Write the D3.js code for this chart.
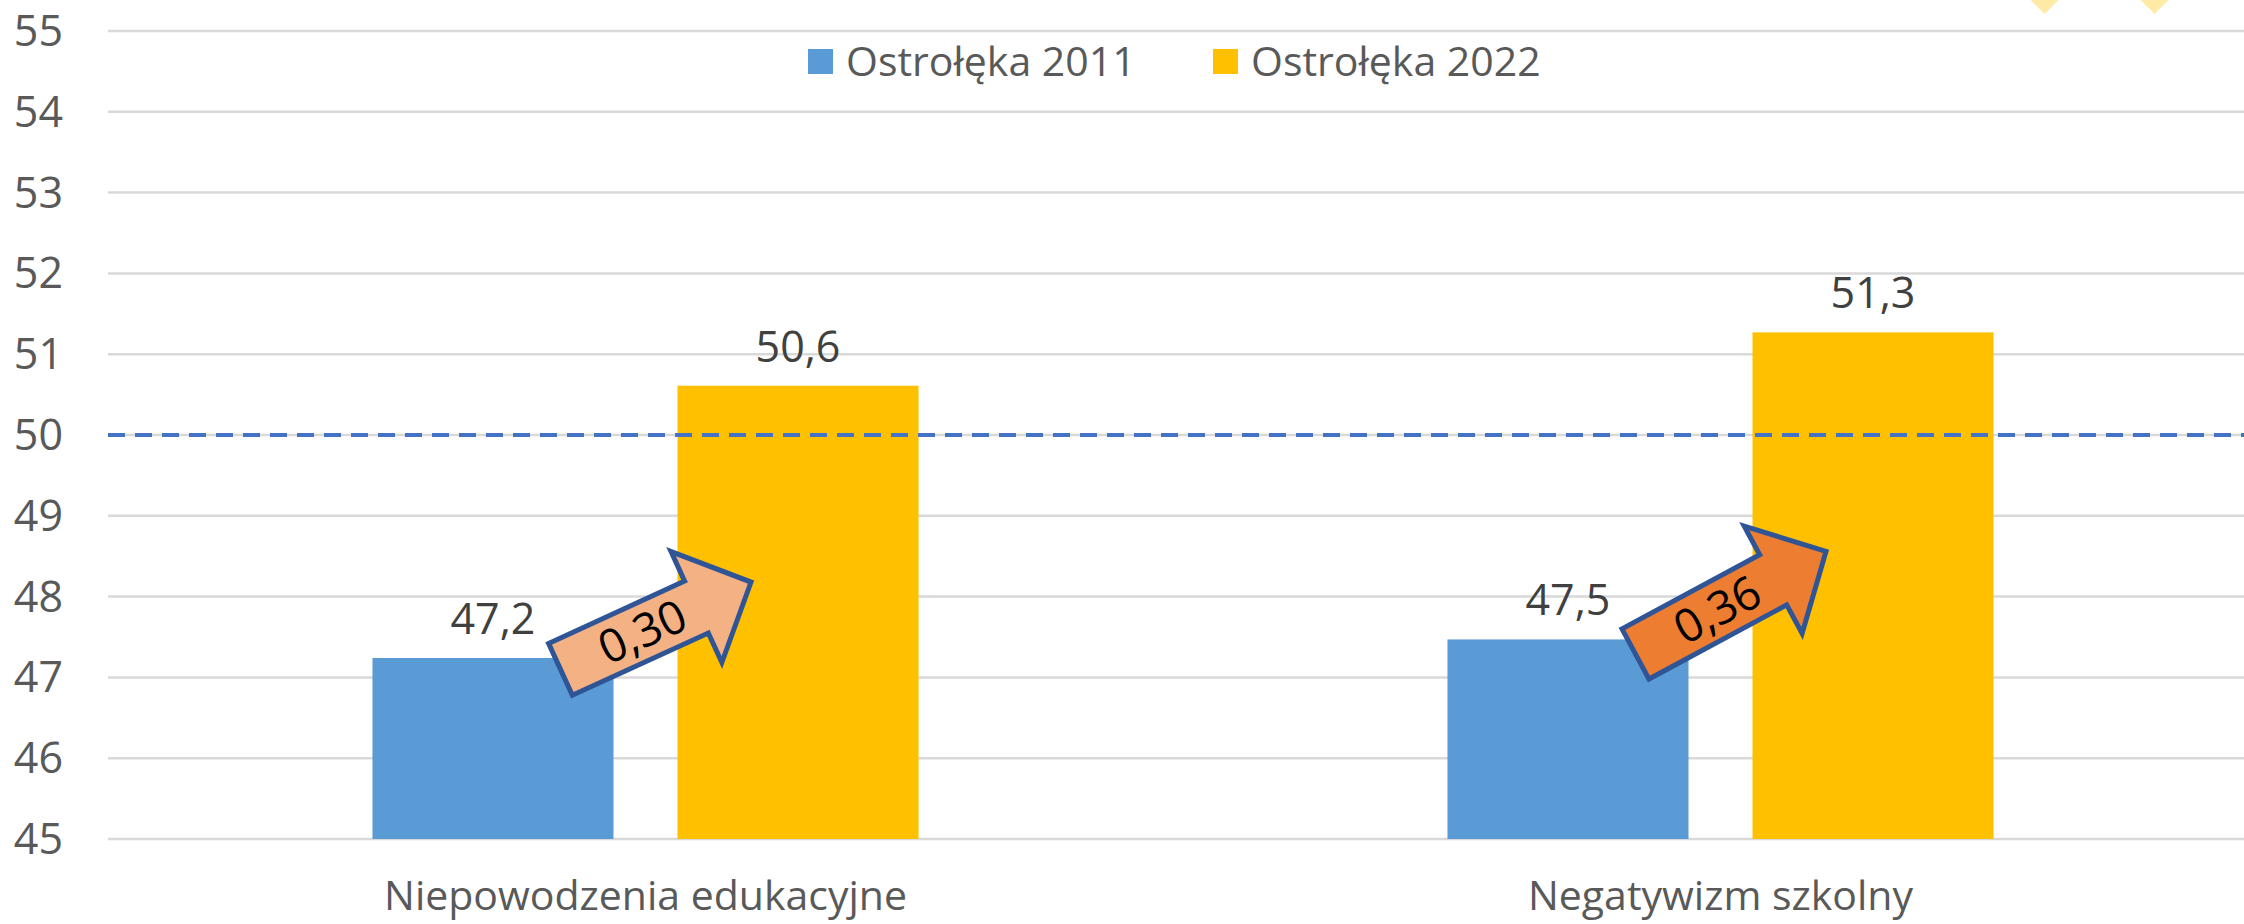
<!DOCTYPE html>
<html>
<head>
<meta charset="utf-8">
<script src="https://cdn.jsdelivr.net/npm/d3@7"></script>
<style>
  html, body { margin: 0; padding: 0; background: #fff; }
  svg { display: block; font-family: "Open Sans", sans-serif; }
</style>
</head>
<body>
<svg id="chart" width="2244" height="924"></svg>
<script>
// data
var categories = ["Niepowodzenia edukacyjne", "Negatywizm szkolny"];
var seriesNames = ["Ostrołęka 2011", "Ostrołęka 2022"];
var values2011 = [47.24, 47.47];
var values2022 = [50.61, 51.27];
var yTicks = [45, 46, 47, 48, 49, 50, 51, 52, 53, 54, 55];
var refValue = 50;
// arrows: change between years, drawn from the 2011 bar to the 2022 bar
var arrowFrom = [47.10, 47.29];
var arrowTo = [48.18, 48.56];
var arrowLabels = ["0,30", "0,36"];
var arrowFills = ["#F4B183", "#ED7D31"];

var colors = ["#5B9BD5", "#FFC000"];

var svg = d3.select("#chart");
var width = +svg.attr("width");
var height = +svg.attr("height");

var plotLeft = 108, plotRight = 2258;

var x = d3.scaleBand().domain(categories).range([plotLeft, plotRight]);
var xSub = d3.scaleBand().domain(seriesNames).range([0, x.bandwidth()])
  .paddingInner(0.2098).paddingOuter(0.867);
var y = d3.scaleLinear().domain([45, 55]).range([839, 31]);

function fmt(v) { return d3.format(".1f")(v).replace(".", ","); }

// decorative diamonds clipped at top right
svg.selectAll("path.decor")
  .data([width - 199.5, width - 89.5])
  .enter().append("path")
  .attr("class", "decor")
  .attr("d", function(d) { return "M" + d + ",-44 L" + (d + 29) + ",-15 L" + d + ",14 L" + (d - 29) + ",-15 Z"; })
  .style("fill", "#FFEAA6");

// gridlines
svg.selectAll("line.grid")
  .data(yTicks)
  .enter().append("line")
  .attr("class", "grid")
  .attr("x1", plotLeft).attr("x2", width)
  .attr("y1", function(d) { return y(d); })
  .attr("y2", function(d) { return y(d); })
  .style("stroke", "#D9D9D9")
  .style("stroke-width", 2.5);

// y tick labels
svg.selectAll("text.ytick")
  .data(yTicks)
  .enter().append("text")
  .attr("class", "ytick")
  .attr("x", 63)
  .attr("y", function(d) { return y(d) + 15; })
  .attr("text-anchor", "end")
  .style("font-size", "43px")
  .style("fill", "#595959")
  .text(function(d) { return d; });

// bars
var seriesData = [values2011, values2022];
var groups = svg.selectAll("g.series")
  .data(seriesData)
  .enter().append("g")
  .attr("class", "series")
  .style("fill", function(d, i) { return colors[i]; });

groups.each(function(vals, si) {
  var g = d3.select(this);
  g.selectAll("rect")
    .data(vals)
    .enter().append("rect")
    .attr("x", function(d, i) { return x(categories[i]) + xSub(seriesNames[si]); })
    .attr("width", xSub.bandwidth())
    .attr("y", function(d) { return y(d); })
    .attr("height", function(d) { return y(45) - y(d); });

  g.selectAll("text")
    .data(vals)
    .enter().append("text")
    .attr("x", function(d, i) { return x(categories[i]) + xSub(seriesNames[si]) + xSub.bandwidth() / 2; })
    .attr("y", function(d) { return y(d) - 24; })
    .attr("text-anchor", "middle")
    .style("font-size", "43px")
    .style("fill", "#404040")
    .text(function(d) { return fmt(d); });
});

// reference line at 50
svg.append("line")
  .attr("x1", plotLeft).attr("x2", width)
  .attr("y1", y(refValue)).attr("y2", y(refValue))
  .style("stroke", "#4472C4")
  .style("stroke-width", 4)
  .style("stroke-dasharray", "17,10");

// arrows
categories.forEach(function(c, i) {
  var x0 = x(c) + xSub(seriesNames[0]) + xSub.bandwidth() * 0.78;
  var y0 = y(arrowFrom[i]);
  var x1 = x(c) + xSub(seriesNames[1]) + xSub.bandwidth() * 0.305;
  var y1 = y(arrowTo[i]);
  var len = Math.hypot(x1 - x0, y1 - y0);
  var ang = Math.atan2(y1 - y0, x1 - x0) * 180 / Math.PI;
  var sw = 28.5, hw = 61, hl = 60;
  var pts = [[0, -sw], [len - hl, -sw], [len - hl, -hw], [len, 0], [len - hl, hw], [len - hl, sw], [0, sw]];
  var g = svg.append("g")
    .attr("transform", "translate(" + x0 + "," + y0 + ") rotate(" + ang + ")");
  g.append("path")
    .attr("d", "M" + pts.join("L") + "Z")
    .style("fill", arrowFills[i])
    .style("stroke", "#2F5597")
    .style("stroke-width", 5)
    .style("stroke-linejoin", "miter");
  g.append("text")
    .attr("x", len * 0.43)
    .attr("y", 16)
    .attr("text-anchor", "middle")
    .style("font-size", "46px")
    .style("fill", "#000")
    .text(arrowLabels[i]);
});

// category labels
svg.selectAll("text.cat")
  .data(categories)
  .enter().append("text")
  .attr("class", "cat")
  .attr("x", function(d) { return x(d) + x.bandwidth() / 2; })
  .attr("y", 910)
  .attr("text-anchor", "middle")
  .style("font-size", "41px")
  .style("fill", "#595959")
  .text(function(d) { return d; });

// legend
var legendX = [808, 1213];
var legend = svg.selectAll("g.legend")
  .data(seriesNames)
  .enter().append("g")
  .attr("class", "legend")
  .attr("transform", function(d, i) { return "translate(" + legendX[i] + ",0)"; });
legend.append("rect")
  .attr("x", 0).attr("y", 49)
  .attr("width", 25).attr("height", 25)
  .style("fill", function(d, i) { return colors[i]; });
legend.append("text")
  .attr("x", 38).attr("y", 76)
  .style("font-size", "41px")
  .style("fill", "#595959")
  .text(function(d) { return d; });
</script>
</body>
</html>
